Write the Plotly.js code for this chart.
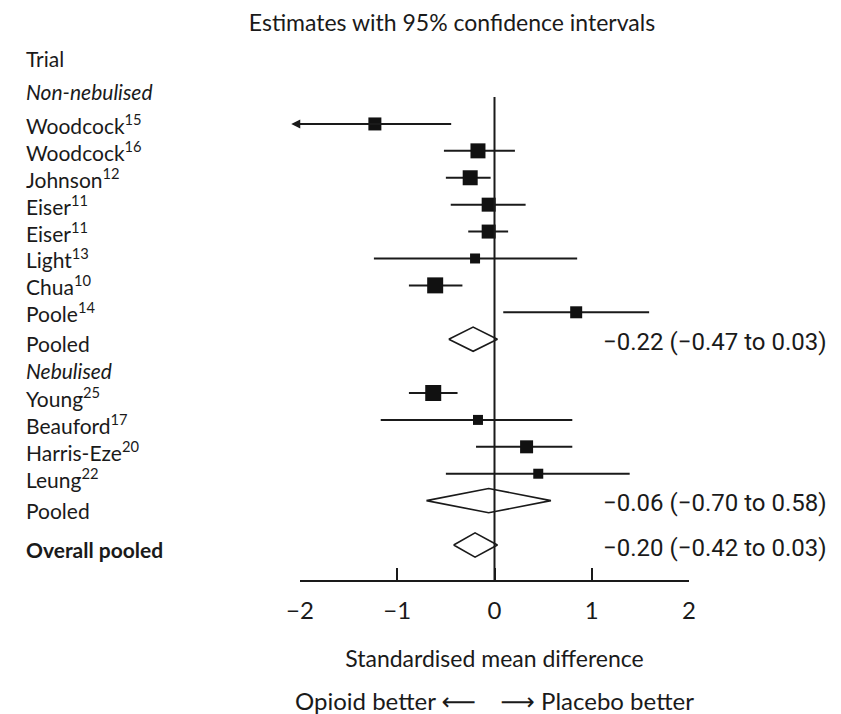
<!DOCTYPE html>
<html><head><meta charset="utf-8">
<script src="https://cdn.plot.ly/plotly-3.0.1.min.js"></script>
<style>html,body{margin:0;padding:0;background:#fff}#chart{width:841px;height:714px}</style>
</head><body><div id="chart"></div>
<script>
// ---------- data ----------
const trialNames = ["Woodcock","Woodcock","Johnson","Eiser","Eiser","Light","Chua","Poole","Young","Beauford","Harris-Eze","Leung"];
const trialRefs  = ["15","16","12","11","11","13","10","14","25","17","20","22"];
const trialGroup = ["Non-nebulised","Non-nebulised","Non-nebulised","Non-nebulised","Non-nebulised","Non-nebulised","Non-nebulised","Non-nebulised","Nebulised","Nebulised","Nebulised","Nebulised"];
const estimate   = [-1.23,-0.17,-0.25,-0.06,-0.06,-0.20,-0.61,0.84,-0.63,-0.17,0.33,0.45];
const ciLow      = [null,-0.52,-0.50,-0.45,-0.27,-1.24,-0.88,0.09,-0.88,-1.17,-0.19,-0.50]; // null = beyond the axis (arrow)
const ciHigh     = [-0.43,0.21,-0.04,0.32,0.14,0.85,-0.33,1.59,-0.38,0.80,0.80,1.39];
const weight     = [13,15,15,14,14,10,16,12,16,10,13,10];
const groups     = ["Non-nebulised","Nebulised"];
const pooledEst  = [-0.22,-0.06];
const pooledLow  = [-0.47,-0.70];
const pooledHigh = [0.03,0.58];
const overallEst = -0.20, overallLow = -0.42, overallHigh = 0.03;
const tickVals = [-2,-1,0,1,2];
const tickText = ["\u22122","\u22121","0","1","2"];

// ---------- layout helpers ----------
const LABEL_FONT = "Lato, 'DejaVu Sans', sans-serif";
const NUM_FONT = "Roboto, 'Liberation Sans', sans-serif";
const INK = "#1a1a1a";
const fmt = v => (v < 0 ? "\u2212" : "") + Math.abs(v).toFixed(2);
const LBL_OFF = 0.15, POOL_OFF = 0.2;
const NB = "\u00A0";

const leftLabels = [];   // {text, y}
const trialRows = [];    // y per trial
const pooledRows = [];
leftLabels.push({text: "Trial", y: -2.45});
let k = 0;
groups.forEach((g, gi) => {
  if (gi === 0) { leftLabels.push({text: "<i>" + g + "</i>", y: -1.2}); }
  else { leftLabels.push({text: "<i>" + g + "</i>", y: k + LBL_OFF}); k++; }
  trialNames.forEach((n, i) => {
    if (trialGroup[i] !== g) return;
    trialRows[i] = k;
    leftLabels.push({text: n + "<sup>" + trialRefs[i] + "</sup>", y: k + (gi ? LBL_OFF : 0)});
    k++;
  });
  pooledRows[gi] = k;
  leftLabels.push({text: "Pooled", y: k + LBL_OFF + (gi ? POOL_OFF : 0)});
  k++;
});
const overallRow = k - 1 + 1.65;
leftLabels.push({text: "<b>Overall pooled</b>", y: overallRow + LBL_OFF});

const yBottom = 16.95, yTop = -3.12;

// CI lines
const ciX = [], ciY = [];
trialNames.forEach((n, i) => {
  if (ciLow[i] === null) return;
  ciX.push(ciLow[i], ciHigh[i], null);
  ciY.push(trialRows[i], trialRows[i], null);
});

const traces = [];
traces.push({type: "scatter", mode: "lines", x: ciX, y: ciY, line: {color: INK, width: 2}, hoverinfo: "skip", showlegend: false});
traces.push({type: "scatter", mode: "markers", x: estimate, y: trialRows,
  marker: {symbol: "square", size: weight, color: "#111111", opacity: 1, line: {width: 0}}, showlegend: false});

function diamond(est, lo, hi, y) {
  const h = 0.45;
  return {type: "scatter", mode: "lines", x: [lo, est, hi, est, lo], y: [y, y - h, y, y + h, y],
    fill: "toself", fillcolor: "#ffffff", line: {color: INK, width: 1.6}, hoverinfo: "skip", showlegend: false};
}
pooledEst.forEach((e, gi) => traces.push(diamond(e, pooledLow[gi], pooledHigh[gi], pooledRows[gi])));
traces.push(diamond(overallEst, overallLow, overallHigh, overallRow));

const annotations = [];
leftLabels.forEach(l => annotations.push({
  text: l.text, xref: "paper", yref: "y", x: (24 - 300) / 389, y: l.y,
  xanchor: "left", yanchor: "middle", showarrow: false,
  font: {family: LABEL_FONT, size: 21, color: INK}
}));
// arrow for off-scale lower limit
trialNames.forEach((n, i) => {
  if (ciLow[i] !== null) return;
  annotations.push({x: -2.09, y: trialRows[i], ax: ciHigh[i], ay: trialRows[i], xref: "x", yref: "y", axref: "x", ayref: "y",
    text: "", showarrow: true, arrowhead: 2, arrowsize: 0.9, arrowwidth: 2, arrowcolor: INK, standoff: 0, startstandoff: 0});
});
// summary texts
const sumRows = pooledRows.concat([overallRow]);
const sumEst = pooledEst.concat([overallEst]);
const sumLo = pooledLow.concat([overallLow]);
const sumHi = pooledHigh.concat([overallHigh]);
sumRows.forEach((r, i) => annotations.push({
  text: fmt(sumEst[i]) + " (" + fmt(sumLo[i]) + " to " + fmt(sumHi[i]) + ")",
  xref: "paper", yref: "y", x: (601 - 300) / 389, y: r + 0.1, xanchor: "left", yanchor: "middle", showarrow: false,
  font: {family: NUM_FONT, size: 24, color: INK}
}));
annotations.push({text: "Opioid better" + NB + "\u27F5" + NB + NB + NB + NB + "\u27F6" + NB + "Placebo better",
  xref: "paper", yref: "paper",
  x: 0.5, y: (714 - 134 - 700) / 540, xanchor: "center", yanchor: "middle", showarrow: false,
  font: {family: LABEL_FONT, size: 24, color: INK}});

const layout = {
  width: 841, height: 714,
  margin: {l: 300, r: 152, t: 40, b: 134},
  paper_bgcolor: "#ffffff", plot_bgcolor: "#ffffff",
  showlegend: false,
  title: {text: "Estimates with 95% confidence intervals", x: 452 / 841, xanchor: "center",
    y: 1 - 23 / 714, yanchor: "middle", font: {family: LABEL_FONT, size: 23, color: INK}},
  xaxis: {range: [-2, 2], tickvals: tickVals, ticktext: tickText, ticks: "inside", ticklen: 12, tickwidth: 2,
    tickcolor: INK, showline: true, linecolor: INK, linewidth: 2, showgrid: false, zeroline: false,
    ticklabelstandoff: 8,
    tickfont: {family: LABEL_FONT, size: 24, color: INK},
    title: {text: "Standardised mean difference", font: {family: LABEL_FONT, size: 23, color: INK}, standoff: 28}},
  yaxis: {range: [yBottom, yTop], visible: false, showgrid: false, zeroline: false},
  shapes: [{type: "line", xref: "x", yref: "y", x0: 0, x1: 0, y0: -1.0, y1: yBottom, line: {color: INK, width: 2}}],
  annotations: annotations
};

Plotly.newPlot("chart", traces, layout, {displayModeBar: false, staticPlot: true});
</script>
</body></html>
